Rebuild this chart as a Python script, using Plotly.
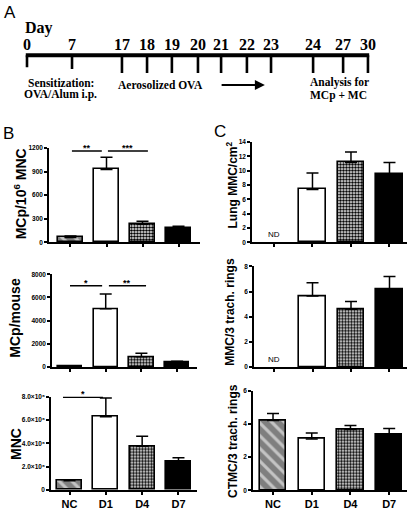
import plotly.graph_objects as go

# ---------------- data ----------------
categories = ["NC", "D1", "D4", "D7"]

mcp_per_mnc = [63, 928, 231, 180]
mcp_per_mnc_err = [17, 155, 37, 25]

mcp_per_mouse = [40, 5020, 880, 400]
mcp_per_mouse_err = [30, 1280, 310, 85]

mnc = [0.79e6, 6.28e6, 3.75e6, 2.40e6]
mnc_err = [0.09e6, 1.60e6, 0.85e6, 0.36e6]

lung_mmc = [None, 7.4, 11.15, 9.5]
lung_mmc_err = [None, 2.3, 1.45, 1.65]

trach_mmc = [None, 5.65, 4.6, 6.2]
trach_mmc_err = [None, 1.05, 0.6, 1.0]

trach_ctmc = [4.2, 3.09, 3.66, 3.37]
trach_ctmc_err = [0.43, 0.36, 0.24, 0.35]

mnc_ticks = [0, 2e6, 4e6, 6e6, 8e6]
mnc_ticktext = ["0", "2.0×10⁶", "4.0×10⁶", "6.0×10⁶", "8.0×10⁶"]

# significance: (from, to, level, stars)
sig_b1 = [(0.04, 0.87, 1162, "**"), (1.04, 2.15, 1162, "***")]
sig_b2 = [(0.0, 0.90, 7000, "*"), (1.09, 2.13, 7000, "**")]
sig_b3 = [(-0.18, 0.92, 7.95e6, "*")]

# timeline (schematic)
timeline_days = ["0", "7", "17", "18", "19", "20", "21", "22", "23", "24", "27", "30"]
timeline_slot = [0, 1.83, 3.86, 4.88, 5.89, 6.95, 7.89, 8.94, 9.92, 11.63, 12.85, 13.86]

# ---------------- styling ----------------
SANS = "Liberation Sans"
SERIF = "Liberation Serif"
pos = list(range(len(categories)))

cat_style = {
    "NC": dict(color="#7f7f7f", pattern=dict(shape="\\", fillmode="replace", bgcolor="#7f7f7f",
                                             fgcolor="#c4c4c4", size=9, solidity=0.35)),
    "D1": dict(color="white"),
    "D4": dict(color="white", pattern=dict(shape=".", fillmode="replace", bgcolor="white",
                                           fgcolor="black", size=3, solidity=0.6)),
    "D7": dict(color="black"),
}

fig = go.Figure()

panels = [
    ("", mcp_per_mnc, mcp_per_mnc_err, (49, 200), (-0.597, 3.597), (146, 241.7), (0, 1200),
     [0, 300, 600, 900, 1200], None, False),
    ("2", mcp_per_mouse, mcp_per_mouse_err, (52, 197), (-0.504, 3.557), (274, 368), (0, 8000),
     [0, 2000, 4000, 6000, 8000], None, False),
    ("3", mnc, mnc_err, (51, 197), (-0.51, 3.51), (398, 492.7), (0, 8e6),
     mnc_ticks, mnc_ticktext, True),
    ("4", lung_mmc, lung_mmc_err, (252, 407), (-0.571, 3.455), (140, 241.7), (0, 14),
     [0, 2, 4, 6, 8, 10, 12, 14], None, False),
    ("5", trach_mmc, trach_mmc_err, (254, 407), (-0.52, 3.455), (266, 368), (0, 8),
     [0, 2, 4, 6, 8], None, False),
    ("6", trach_ctmc, trach_ctmc_err, (253, 407), (-0.517, 3.46), (392, 493), (0, 6),
     [0, 2, 4, 6], None, True),
]

W, H = 411, 514

for suf, vals, errs, xd, xr, yd, yr, tv, tt, showx in panels:
    for i, cat in enumerate(categories):
        if vals[i] is None:
            continue
        st = cat_style[cat]
        marker = dict(color=st["color"], line=dict(color="black", width=1.6))
        if "pattern" in st:
            marker["pattern"] = st["pattern"]
        fig.add_trace(go.Bar(
            x=[pos[i]], y=[vals[i]], width=0.68, marker=marker,
            error_y=dict(type="data", array=[errs[i]], arrayminus=[0], symmetric=False,
                         color="black", thickness=1.5, width=6),
            xaxis="x" + suf, yaxis="y" + suf, showlegend=False, cliponaxis=False,
        ))
    xa = dict(
        domain=[xd[0] / W, xd[1] / W], range=list(xr), anchor="y" + suf,
        tickvals=pos, ticktext=categories, showticklabels=showx,
        ticks="outside", ticklen=3, tickwidth=1.5, tickcolor="black",
        showline=True, linecolor="black", linewidth=1.6, showgrid=False, zeroline=False,
        tickfont=dict(family=SANS, size=11, color="black", weight="bold"),
        fixedrange=True,
    )
    ya = dict(
        domain=[1 - yd[1] / H, 1 - yd[0] / H], range=list(yr), anchor="x" + suf,
        tickvals=tv, ticks="outside", ticklen=3, tickwidth=1.5, tickcolor="black",
        showline=True, linecolor="black", linewidth=1.6, showgrid=False, zeroline=False,
        tickfont=dict(family=SANS, size=6.5, color="black", weight="bold"),
        fixedrange=True,
    )
    if tt is not None:
        ya["ticktext"] = tt
    fig.layout["xaxis" + suf] = xa
    fig.layout["yaxis" + suf] = ya

annotations = []

# significance bars
for suf, sigs in (("", sig_b1), ("2", sig_b2), ("3", sig_b3)):
    xs, ys = [], []
    for a, b, lvl, stars in sigs:
        xs += [a, b, None]
        ys += [lvl, lvl, None]
        annotations.append(dict(
            x=(a + b) / 2, y=lvl, xref="x" + suf, yref="y" + suf, text=stars,
            showarrow=False, yanchor="bottom", yshift=-4,
            font=dict(family=SANS, size=9, color="black", weight="bold"),
        ))
    fig.add_trace(go.Scatter(x=xs, y=ys, mode="lines", line=dict(color="black", width=1.5),
                             xaxis="x" + suf, yaxis="y" + suf, showlegend=False,
                             cliponaxis=False, hoverinfo="skip"))

# ND labels
for suf in ("4", "5"):
    annotations.append(dict(x=0, y=0, xref="x" + suf, yref="y" + suf, text="ND",
                            showarrow=False, yanchor="bottom", yshift=1,
                            font=dict(family=SANS, size=8, color="#000000")))

# y-axis titles
ytitles = [
    ("MCp/10<sup>6</sup> MNC", 20, 193, 14),
    ("MCp/mouse", 15, 318, 14),
    ("MNC", 16, 446, 14),
    ("Lung MMC/cm<sup>2</sup>", 232, 184, 12),
    ("MMC/3 trach. rings", 230, 312, 12),
    ("CTMC/3 trach. rings", 233, 443, 12),
]
for txt, px, py, fs in ytitles:
    annotations.append(dict(x=px / W, y=1 - py / H, xref="paper", yref="paper", text=txt,
                            textangle=-90, showarrow=False, xanchor="center", yanchor="middle",
                            font=dict(family=SANS, size=fs, color="black", weight="bold")))

# panel letters
for txt, px, py in (("A", 2, 9), ("B", 1, 131), ("C", 212, 129)):
    annotations.append(dict(x=px / W, y=1 - py / H, xref="paper", yref="paper", text=txt,
                            showarrow=False, xanchor="left", yanchor="middle",
                            font=dict(family=SANS, size=17, color="black")))

# ---------------- timeline (panel A) ----------------
line_y = 52
tick_bottom = [64, 66] + [70] * (len(timeline_slot) - 2)
fig.add_trace(go.Scatter(x=[timeline_slot[0] - 0.05, timeline_slot[-1] + 0.05], y=[line_y, line_y],
                         mode="lines", line=dict(color="black", width=4),
                         xaxis="x7", yaxis="y7", showlegend=False, hoverinfo="skip"))
tx, ty = [], []
for s, b in zip(timeline_slot, tick_bottom):
    tx += [s, s, None]
    ty += [line_y, b, None]
fig.add_trace(go.Scatter(x=tx, y=ty, mode="lines", line=dict(color="black", width=2.6),
                         xaxis="x7", yaxis="y7", showlegend=False, hoverinfo="skip"))
for d, s in zip(timeline_days, timeline_slot):
    annotations.append(dict(x=s, y=41, xref="x7", yref="y7", text=d, showarrow=False,
                            xanchor="center", yanchor="middle",
                            font=dict(family=SERIF, size=16, color="black", weight="bold")))
tl_text = [
    ("Day", -0.17, 24, 16, "left"),
    ("Sensitization:", 1.38, 80, 11.5, "center"),
    ("OVA/Alum i.p.", 1.38, 92, 11.5, "center"),
    ("Aerosolized OVA", 5.41, 82, 11.5, "center"),
    ("Analysis for", 12.72, 80, 11.5, "center"),
    ("MCp + MC", 12.66, 93, 11.5, "center"),
]
for txt, s, y, fs, xa in tl_text:
    annotations.append(dict(x=s, y=y, xref="x7", yref="y7", text=txt, showarrow=False,
                            xanchor=xa, yanchor="middle",
                            font=dict(family=SERIF, size=fs, color="black", weight="bold")))
annotations.append(dict(x=9.67, y=82, ax=7.85, ay=82, xref="x7", yref="y7",
                        axref="x7", ayref="y7", text="", showarrow=True,
                        arrowhead=2, arrowsize=1, arrowwidth=2, arrowcolor="black"))

fig.layout["xaxis7"] = dict(domain=[0, 1], range=[-27 / 24.6, (W - 27) / 24.6], visible=False,
                            anchor="y7", fixedrange=True)
fig.layout["yaxis7"] = dict(domain=[0.8, 1.0], range=[0.2 * H, 0], visible=False,
                            anchor="x7", fixedrange=True)

fig.update_layout(
    width=W, height=H, margin=dict(l=0, r=0, t=0, b=0),
    paper_bgcolor="white", plot_bgcolor="white",
    annotations=annotations, bargap=0,
)

fig.write_html("out.html", config={"displayModeBar": False},
               post_script="document.body.style.margin='0';document.body.style.padding='0';")
